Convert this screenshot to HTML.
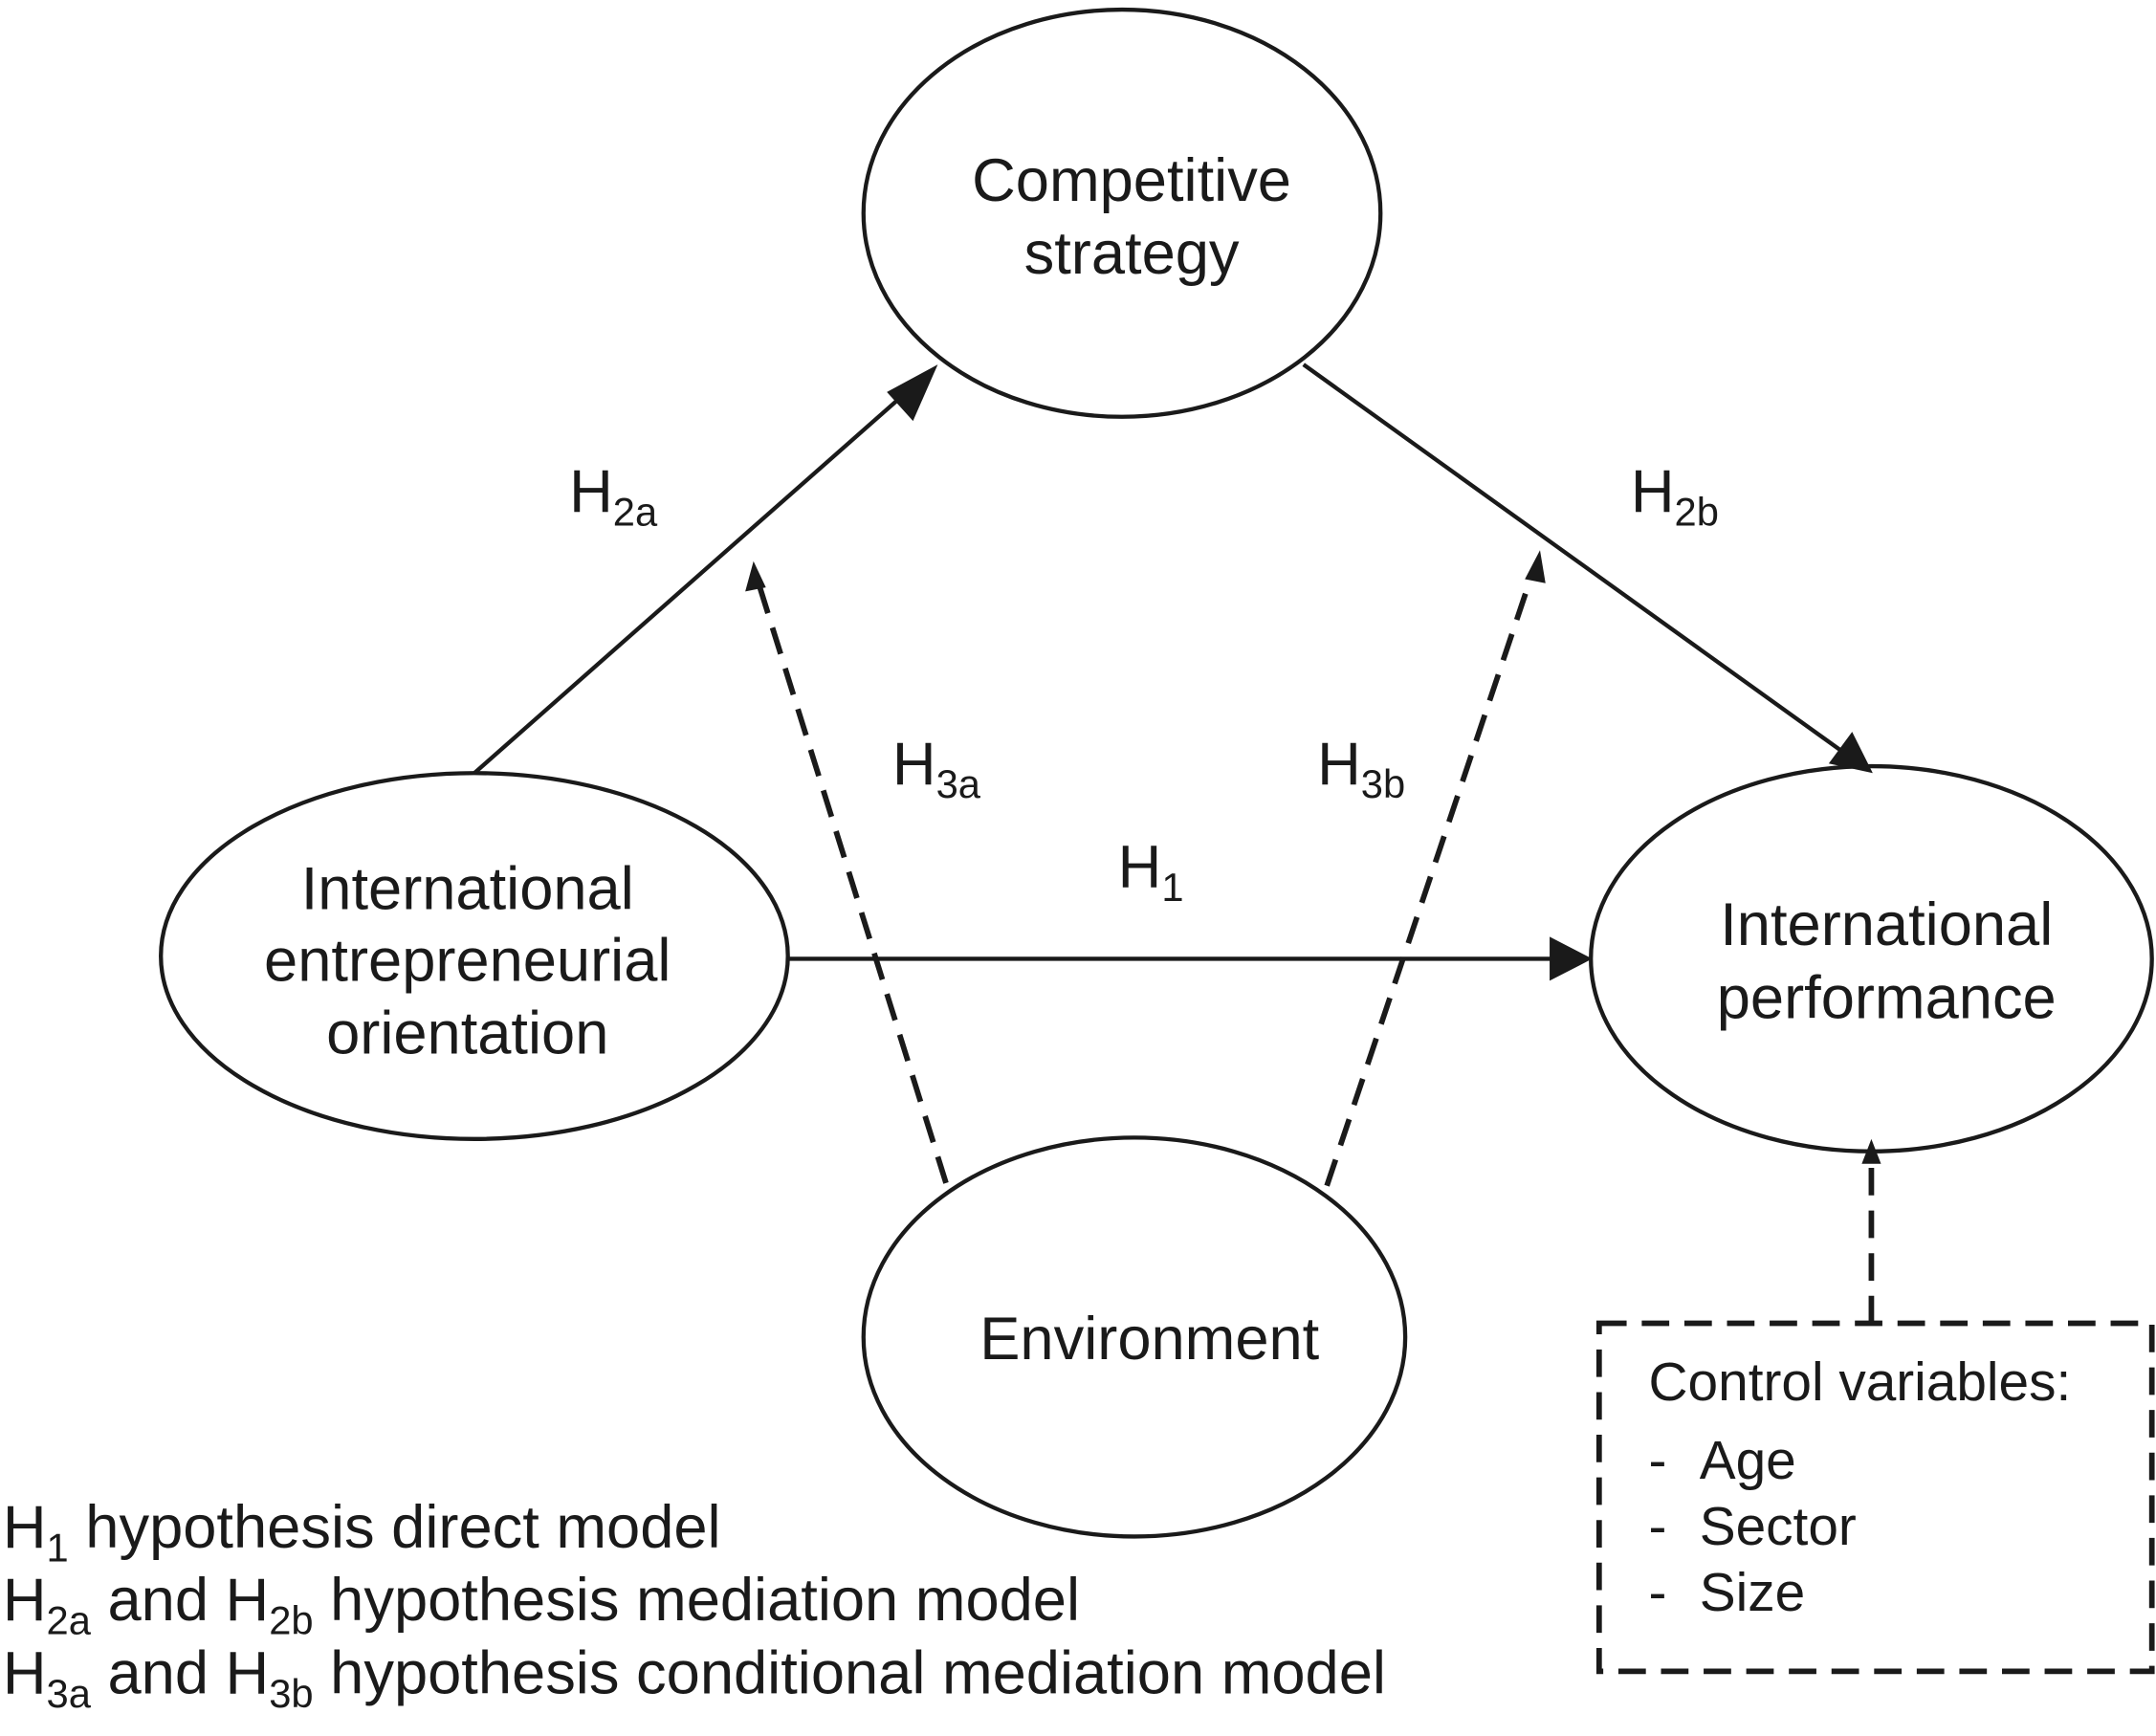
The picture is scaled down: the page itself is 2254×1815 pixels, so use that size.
<!DOCTYPE html>
<html><head><meta charset="utf-8"><style>
html,body{margin:0;padding:0;background:#fff;}
svg{display:block;}
text{font-family:"Liberation Sans",Arial,sans-serif;fill:#1a1a1a;}
</style></head><body>
<svg width="2254" height="1815" viewBox="0 0 1568 1262" preserveAspectRatio="none" xmlns="http://www.w3.org/2000/svg">
<g fill="none" stroke="#1a1a1a" stroke-width="3">
<ellipse cx="816" cy="155" rx="188" ry="148"/>
<ellipse cx="345" cy="695" rx="228" ry="133"/>
<ellipse cx="1361" cy="697" rx="204" ry="140"/>
<ellipse cx="825" cy="972" rx="197" ry="145"/>
<line x1="345" y1="562" x2="665" y2="280"/>
<line x1="948" y1="265" x2="1345" y2="550"/>
<line x1="573" y1="697" x2="1130" y2="697"/>
<g stroke-dasharray="20,11" stroke-width="4">
<line x1="688" y1="860" x2="552" y2="425"/>
<line x1="965" y1="862" x2="1114" y2="418"/>
<line x1="1361" y1="962" x2="1361" y2="845"/>
<rect x="1163" y="962" width="402" height="253"/>
</g>
</g>
<g fill="#1a1a1a">
<polygon points="682,265 645,285 664,306"/>
<polygon points="1362,562 1330,555 1347,532"/>
<polygon points="1158,697 1127,681 1127,713"/>
<polygon points="548,408 542,430 557,427"/>
<polygon points="1120,400 1109,421 1124,424"/>
<polygon points="1361,828 1354,846 1368,846"/>
</g>
<g font-size="44" text-anchor="middle">
<text x="823" y="146">Competitive</text>
<text x="823" y="199">strategy</text>
<text x="340" y="661">International</text>
<text x="340" y="713">entrepreneurial</text>
<text x="340" y="766">orientation</text>
<text x="1372" y="687">International</text>
<text x="1372" y="740">performance</text>
<text x="836" y="988">Environment</text>
</g>
<g font-size="44">
<text x="414" y="372">H<tspan font-size="29" dy="10">2a</tspan></text>
<text x="1186" y="372">H<tspan font-size="29" dy="10">2b</tspan></text>
<text x="649" y="570">H<tspan font-size="29" dy="10">3a</tspan></text>
<text x="958" y="570">H<tspan font-size="29" dy="10">3b</tspan></text>
<text x="813" y="645">H<tspan font-size="29" dy="10">1</tspan></text>
<g font-size="39.5">
<text x="1199" y="1018">Control variables:</text>
<text x="1199" y="1075">-</text><text x="1236" y="1075">Age</text>
<text x="1199" y="1123">-</text><text x="1236" y="1123">Sector</text>
<text x="1199" y="1171">-</text><text x="1236" y="1171">Size</text>
</g>
<text x="2" y="1125">H<tspan font-size="29" dy="10">1</tspan><tspan dy="-10"> hypothesis direct model</tspan></text>
<text x="2" y="1178">H<tspan font-size="29" dy="10">2a</tspan><tspan dy="-10"> and H</tspan><tspan font-size="29" dy="10">2b</tspan><tspan dy="-10"> hypothesis mediation model</tspan></text>
<text x="2" y="1231">H<tspan font-size="29" dy="10">3a</tspan><tspan dy="-10"> and H</tspan><tspan font-size="29" dy="10">3b</tspan><tspan dy="-10"> hypothesis conditional mediation model</tspan></text>
</g>
</svg>
</body></html>
